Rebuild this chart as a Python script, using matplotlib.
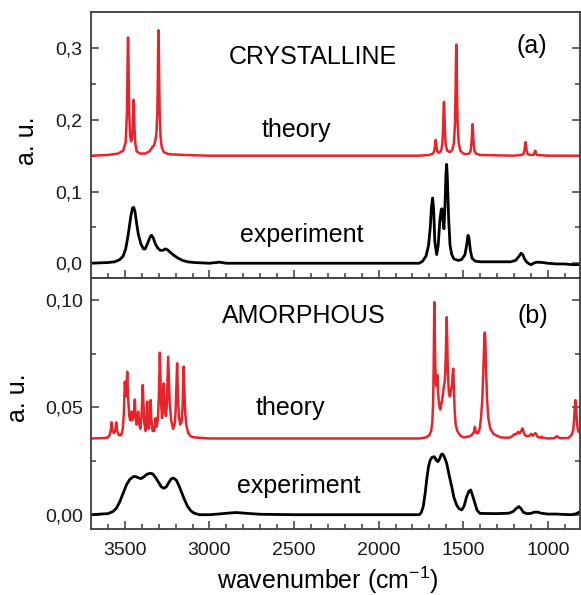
import matplotlib
matplotlib.use('Agg')
import matplotlib.pyplot as plt
from matplotlib.ticker import FixedLocator, FixedFormatter

# ---------------- data ----------------
cryst_theory_wn = [3700, 3600, 3540, 3510, 3495, 3488, 3485, 3483, 3481, 3479, 3477, 3474,
                   3469, 3463, 3457, 3453, 3450, 3448, 3446, 3443, 3438, 3430, 3410, 3380,
                   3355, 3340, 3335, 3328, 3320, 3313, 3308, 3305, 3303, 3301, 3299, 3297,
                   3294, 3289, 3282, 3270, 3240, 3150, 3000, 1760, 1700, 1680, 1672, 1668,
                   1665, 1663, 1661, 1658, 1653, 1645, 1636, 1628, 1622, 1618, 1616, 1614,
                   1612, 1609, 1604, 1595, 1580, 1565, 1555, 1549, 1545, 1543, 1541, 1539,
                   1537, 1533, 1527, 1517, 1500, 1480, 1465, 1456, 1450, 1447, 1445, 1443,
                   1440, 1434, 1425, 1400, 1200, 1160, 1145, 1138, 1134, 1132, 1130, 1126,
                   1119, 1100, 1085, 1079, 1075, 1071, 1065, 1000, 810]
cryst_theory_val = [0.150, 0.151, 0.153, 0.157, 0.169, 0.207, 0.252, 0.294, 0.315, 0.294, 0.254, 0.209,
                    0.178, 0.170, 0.175, 0.192, 0.217, 0.228, 0.215, 0.188, 0.167, 0.156, 0.153, 0.153,
                    0.156, 0.161, 0.163, 0.164, 0.171, 0.182, 0.211, 0.259, 0.302, 0.325, 0.300, 0.257,
                    0.209, 0.177, 0.162, 0.155, 0.152, 0.151, 0.150, 0.150, 0.151, 0.153, 0.156, 0.161,
                    0.169, 0.172, 0.170, 0.162, 0.156, 0.154, 0.155, 0.159, 0.172, 0.197, 0.215, 0.225,
                    0.215, 0.189, 0.166, 0.157, 0.155, 0.158, 0.168, 0.194, 0.245, 0.283, 0.305, 0.283,
                    0.245, 0.194, 0.168, 0.157, 0.153, 0.152, 0.153, 0.157, 0.172, 0.188, 0.194, 0.188,
                    0.172, 0.157, 0.153, 0.151, 0.150, 0.151, 0.152, 0.158, 0.166, 0.169, 0.166, 0.158,
                    0.152, 0.151, 0.151, 0.154, 0.157, 0.154, 0.151, 0.150, 0.150]

cryst_exp_wn = [3700, 3600, 3560, 3530, 3510, 3495, 3480, 3465, 3455, 3448, 3440, 3430, 3420,
                3405, 3390, 3380, 3365, 3350, 3342, 3333, 3320, 3305, 3290, 3275, 3260, 3250,
                3230, 3210, 3185, 3160, 3130, 3090, 3000, 2940, 2900, 1760, 1740, 1720, 1705,
                1695, 1688, 1681, 1675, 1668, 1657, 1648, 1638, 1630, 1626, 1620, 1614, 1608,
                1602, 1598, 1594, 1586, 1578, 1568, 1555, 1530, 1510, 1490, 1480, 1472, 1466,
                1458, 1448, 1430, 1400, 1300, 1220, 1190, 1170, 1158, 1148, 1138, 1126, 1110,
                1098, 1085, 1065, 1030, 1000, 950, 900, 850, 810]
cryst_exp_val = [0.000, 0.001, 0.002, 0.005, 0.010, 0.020, 0.040, 0.065, 0.077, 0.078, 0.072, 0.055, 0.040,
                 0.027, 0.020, 0.020, 0.028, 0.037, 0.039, 0.036, 0.027, 0.021, 0.018, 0.018, 0.020, 0.019,
                 0.015, 0.011, 0.007, 0.004, 0.002, 0.001, 0.000, 0.0015, 0.000, 0.000, 0.003, 0.010, 0.025,
                 0.050, 0.078, 0.091, 0.075, 0.030, 0.012, 0.025, 0.060, 0.075, 0.076, 0.060, 0.048, 0.080,
                 0.125, 0.138, 0.120, 0.060, 0.025, 0.012, 0.006, 0.004, 0.005, 0.012, 0.025, 0.039, 0.035,
                 0.018, 0.007, 0.003, 0.002, 0.002, 0.002, 0.004, 0.010, 0.014, 0.012, 0.006, 0.002, -0.001,
                 -0.002, 0.000, 0.0015, 0.001, 0.000, -0.001, -0.001, -0.002, -0.002]

amorph_theory_wn = [3700, 3620, 3600, 3590, 3584, 3578, 3572, 3564, 3557, 3551, 3545, 3535, 3522,
                    3512, 3506, 3500, 3494, 3490, 3486, 3481, 3474, 3468, 3464, 3460, 3456, 3450,
                    3445, 3441, 3437, 3431, 3426, 3421, 3416, 3409, 3401, 3398, 3394, 3390, 3385,
                    3378, 3372, 3368, 3364, 3358, 3352, 3348, 3344, 3336, 3326, 3319, 3313, 3305,
                    3299, 3296, 3293, 3290, 3286, 3280, 3276, 3273, 3270, 3266, 3262, 3256, 3251,
                    3247, 3244, 3240, 3235, 3226, 3215, 3206, 3200, 3196, 3191, 3187, 3181, 3173,
                    3165, 3159, 3156, 3152, 3148, 3143, 3135, 3125, 3112, 3090, 3000, 1760, 1720,
                    1700, 1690, 1683, 1678, 1675, 1673, 1671, 1668, 1664, 1660, 1656, 1653, 1649,
                    1642, 1636, 1628, 1620, 1614, 1609, 1604, 1601, 1598, 1595, 1591, 1585, 1579,
                    1572, 1566, 1562, 1559, 1556, 1551, 1545, 1535, 1520, 1500, 1460, 1445, 1437,
                    1434, 1431, 1428, 1422, 1412, 1403, 1395, 1388, 1382, 1378, 1375, 1372, 1369,
                    1365, 1360, 1352, 1340, 1320, 1280, 1230, 1210, 1200, 1195, 1188, 1182, 1175,
                    1168, 1160, 1153, 1149, 1144, 1135, 1120, 1105, 1099, 1096, 1090, 1080, 1074,
                    1069, 1060, 1045, 1037, 1030, 1000, 960, 948, 942, 930, 880, 860, 850, 845,
                    840, 837, 834, 829, 824, 818, 810]
amorph_theory_val = [0.0355, 0.0357, 0.0360, 0.0370, 0.0390, 0.0430, 0.0390, 0.0380, 0.0390, 0.0430, 0.0390, 0.0370, 0.0370,
                     0.0400, 0.0470, 0.0620, 0.0550, 0.0580, 0.0666, 0.0550, 0.0460, 0.0440, 0.0450, 0.0480, 0.0440, 0.0450,
                     0.0490, 0.0537, 0.0470, 0.0420, 0.0440, 0.0480, 0.0430, 0.0400, 0.0460, 0.0530, 0.0604, 0.0520, 0.0430,
                     0.0390, 0.0440, 0.0527, 0.0440, 0.0400, 0.0450, 0.0534, 0.0450, 0.0390, 0.0390, 0.0450, 0.0410, 0.0440,
                     0.0550, 0.0660, 0.0755, 0.0660, 0.0520, 0.0450, 0.0500, 0.0560, 0.0612, 0.0540, 0.0470, 0.0460, 0.0530,
                     0.0640, 0.0736, 0.0640, 0.0520, 0.0440, 0.0400, 0.0420, 0.0480, 0.0580, 0.0705, 0.0580, 0.0460, 0.0420,
                     0.0430, 0.0500, 0.0580, 0.0690, 0.0580, 0.0470, 0.0410, 0.0380, 0.0365, 0.0360, 0.0355, 0.0355, 0.0360,
                     0.0370, 0.0390, 0.0430, 0.0520, 0.0680, 0.0850, 0.0990, 0.0820, 0.0660, 0.0600, 0.0620, 0.0650, 0.0570,
                     0.0510, 0.0490, 0.0520, 0.0560, 0.0600, 0.0620, 0.0720, 0.0820, 0.0920, 0.0820, 0.0660, 0.0570, 0.0550,
                     0.0580, 0.0610, 0.0660, 0.0680, 0.0610, 0.0490, 0.0420, 0.0390, 0.0370, 0.0360, 0.0365, 0.0375, 0.0385,
                     0.0400, 0.0409, 0.0395, 0.0380, 0.0380, 0.0400, 0.0450, 0.0530, 0.0650, 0.0760, 0.0830, 0.0849, 0.0800,
                     0.0680, 0.0550, 0.0450, 0.0400, 0.0375, 0.0360, 0.0358, 0.0365, 0.0374, 0.0372, 0.0376, 0.0380, 0.0386,
                     0.0378, 0.0385, 0.0398, 0.0402, 0.0388, 0.0370, 0.0365, 0.0370, 0.0376, 0.0376, 0.0368, 0.0374, 0.0380,
                     0.0375, 0.0362, 0.0358, 0.0364, 0.0358, 0.0355, 0.0356, 0.0366, 0.0363, 0.0356, 0.0357, 0.0370, 0.0395, 0.0440,
                     0.0510, 0.0534, 0.0510, 0.0445, 0.0400, 0.0385, 0.0385]

amorph_exp_wn = [3700, 3600, 3570, 3550, 3530, 3510, 3490, 3470, 3450, 3437, 3420, 3405, 3390,
                 3370, 3350, 3335, 3320, 3300, 3285, 3270, 3255, 3240, 3225, 3211, 3195, 3180,
                 3165, 3150, 3130, 3110, 3090, 3060, 3000, 2950, 2880, 2840, 2790, 2700, 2500,
                 1760, 1748, 1736, 1725, 1715, 1705, 1695, 1683, 1671, 1660, 1650, 1640, 1630,
                 1622, 1612, 1598, 1585, 1568, 1555, 1539, 1525, 1509, 1495, 1480, 1466, 1456,
                 1445, 1431, 1418, 1401, 1300, 1230, 1205, 1185, 1172, 1160, 1145, 1125, 1100,
                 1080, 1060, 1040, 1000, 950, 900, 860, 830, 815, 810]
amorph_exp_val = [0.0000, 0.0005, 0.0015, 0.0030, 0.0060, 0.0100, 0.0140, 0.0165, 0.0177, 0.0178, 0.0172, 0.0168, 0.0175,
                  0.0188, 0.0193, 0.0190, 0.0175, 0.0150, 0.0130, 0.0123, 0.0130, 0.0150, 0.0168, 0.0170, 0.0160, 0.0135,
                  0.0105, 0.0075, 0.0040, 0.0018, 0.0007, 0.0000, 0.0000, 0.0003, 0.0008, 0.0010, 0.0007, 0.0002, 0.0000,
                  0.0000, 0.0010, 0.0040, 0.0100, 0.0170, 0.0225, 0.0255, 0.0268, 0.0270, 0.0255, 0.0247, 0.0260, 0.0280,
                  0.0283, 0.0270, 0.0240, 0.0190, 0.0130, 0.0080, 0.0045, 0.0028, 0.0022, 0.0040, 0.0084, 0.0110, 0.0115,
                  0.0090, 0.0053, 0.0020, 0.0006, 0.0005, 0.0007, 0.0015, 0.0030, 0.0038, 0.0030, 0.0012, 0.0005, 0.0006,
                  0.0012, 0.0012, 0.0007, 0.0003, 0.0003, 0.0001, 0.0000, 0.0005, 0.0012, 0.0015]

x_ticks = [3500, 3000, 2500, 2000, 1500, 1000]
x_tick_labels = ['3500', '3000', '2500', '2000', '1500', '1000']
x_minor = [3600, 3400, 3300, 3200, 3100, 2900, 2800, 2700, 2600, 2400, 2300, 2200, 2100,
           1900, 1800, 1700, 1600, 1400, 1300, 1200, 1100, 900]
top_y_ticks = [0.0, 0.1, 0.2, 0.3]
top_y_labels = ['0,0', '0,1', '0,2', '0,3']
top_y_minor = [0.05, 0.15, 0.25]
bot_y_ticks = [0.00, 0.05, 0.10]
bot_y_labels = ['0,00', '0,05', '0,10']
bot_y_minor = [0.025, 0.075]

# ---------------- figure ----------------
plt.rcParams['font.family'] = ['Liberation Sans', 'DejaVu Sans']
plt.rcParams['mathtext.default'] = 'regular'

W, H = 581, 595
fig = plt.figure(figsize=(W / 100, H / 100), dpi=100)
L, R = 91 / W, 580 / W
ax1 = fig.add_axes([L, 1 - 278.3 / H, R - L, (278.3 - 12.3) / H])
ax2 = fig.add_axes([L, 1 - 529.3 / H, R - L, (529.3 - 278.3) / H])

RED = '#e8242b'
SPC = '#3c3c3c'

ax1.plot(cryst_theory_wn, cryst_theory_val, color=RED, lw=1.8)
ax1.plot(cryst_exp_wn, cryst_exp_val, color='black', lw=2.0)
ax2.plot(amorph_theory_wn, amorph_theory_val, color=RED, lw=1.8)
ax2.plot(amorph_exp_wn, amorph_exp_val, color='black', lw=2.0)

for ax in (ax1, ax2):
    ax.set_xlim(3700, 810)
    ax.xaxis.set_major_locator(FixedLocator(x_ticks))
    ax.xaxis.set_minor_locator(FixedLocator(x_minor))
    for s in ax.spines.values():
        s.set_color(SPC)
        s.set_linewidth(1.3)
    ax.tick_params(which='both', direction='in', right=True, top=False,
                   color=SPC, width=1.1, labelsize=14, labelcolor='#1a1a1a')
    ax.tick_params(which='major', length=6)
    ax.tick_params(which='minor', length=3.3)
    ax.tick_params(axis='y', pad=6)

ax1.set_ylim(-0.021, 0.350)
ax1.yaxis.set_major_locator(FixedLocator(top_y_ticks))
ax1.yaxis.set_major_formatter(FixedFormatter(top_y_labels))
ax1.yaxis.set_minor_locator(FixedLocator(top_y_minor))
ax1.tick_params(axis='x', labelbottom=False)

ax2.set_ylim(-0.0068, 0.1101)
ax2.yaxis.set_major_locator(FixedLocator(bot_y_ticks))
ax2.yaxis.set_major_formatter(FixedFormatter(bot_y_labels))
ax2.yaxis.set_minor_locator(FixedLocator(bot_y_minor))
ax2.xaxis.set_major_formatter(FixedFormatter(x_tick_labels))
ax2.tick_params(axis='x', pad=9.5)

def ftxt(x, y, s, **kw):
    fig.text(x / W, 1 - y / H, s, fontsize=18, color='black', va='baseline', **kw)

ftxt(313, 64, 'CRYSTALLINE', ha='center')
ftxt(532, 53, '(a)', ha='center')
ftxt(296, 137, 'theory', ha='center')
ftxt(302, 242, 'experiment', ha='center')
ftxt(304, 323.3, 'AMORPHOUS', ha='center')
ftxt(533, 323, '(b)', ha='center')
ftxt(290, 415, 'theory', ha='center')
ftxt(299, 493.3, 'experiment', ha='center')
ftxt(328, 589.5, 'wavenumber (cm$^{-1}$)', ha='center')

fig.text(34 / W, 1 - 141 / H, 'a. u.', fontsize=18, rotation=90, rotation_mode='anchor',
         ha='center', va='baseline')
fig.text(25 / W, 1 - 398 / H, 'a. u.', fontsize=18, rotation=90, rotation_mode='anchor',
         ha='center', va='baseline')

fig.savefig('out.png', dpi=100)
